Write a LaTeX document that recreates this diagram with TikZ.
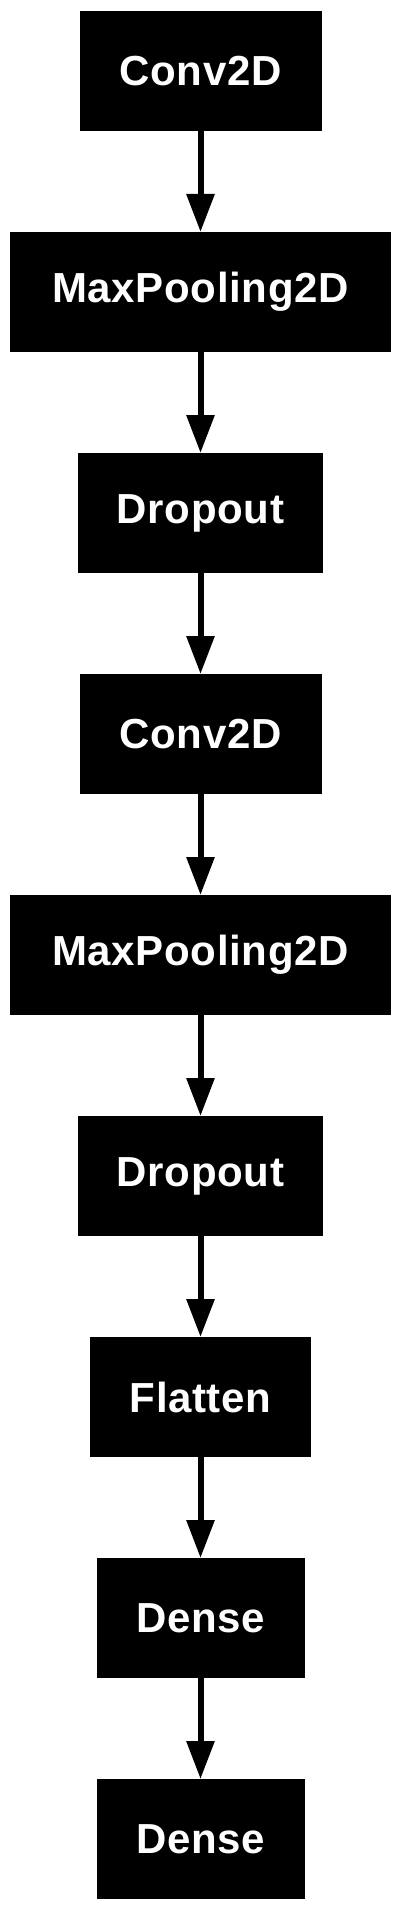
\documentclass[tikz,border=0pt]{standalone}
\usepackage{fontspec}
\newfontfamily\layerfont{Liberation Sans}[LetterSpace=1.5]
\usetikzlibrary{arrows.meta, positioning}

\begin{document}
\begin{tikzpicture}[
  x=1pt, y=1pt,
  font=\layerfont\bfseries\fontsize{42}{46}\selectfont, node distance=101pt,
  layer/.style={fill=black, text=white, outer sep=0pt, inner sep=0pt,
                minimum height=120pt},
  arr/.style={line width=6pt, -{Triangle[length=38pt, width=27pt]}}]
\useasboundingbox (0,0) rectangle (401,-1910);
\node[layer, minimum width=242pt] (conv1) at (200.5,-71) {Conv2D};
\node[layer, minimum width=381pt, below=of conv1] (pool1) {MaxPooling2D};
\node[layer, minimum width=245pt, below=of pool1] (drop1) {Dropout};
\node[layer, minimum width=242pt, below=of drop1] (conv2) {Conv2D};
\node[layer, minimum width=381pt, below=of conv2] (pool2) {MaxPooling2D};
\node[layer, minimum width=245pt, below=of pool2] (drop2) {Dropout};
\node[layer, minimum width=221pt, below=of drop2] (flat) {Flatten};
\node[layer, minimum width=208pt, below=of flat] (dense1) {Dense};
\node[layer, minimum width=208pt, below=of dense1] (dense2) {Dense};
\draw[arr] (conv1) -- (pool1);
\draw[arr] (pool1) -- (drop1);
\draw[arr] (drop1) -- (conv2);
\draw[arr] (conv2) -- (pool2);
\draw[arr] (pool2) -- (drop2);
\draw[arr] (drop2) -- (flat);
\draw[arr] (flat) -- (dense1);
\draw[arr] (dense1) -- (dense2);
\end{tikzpicture}
\end{document}
